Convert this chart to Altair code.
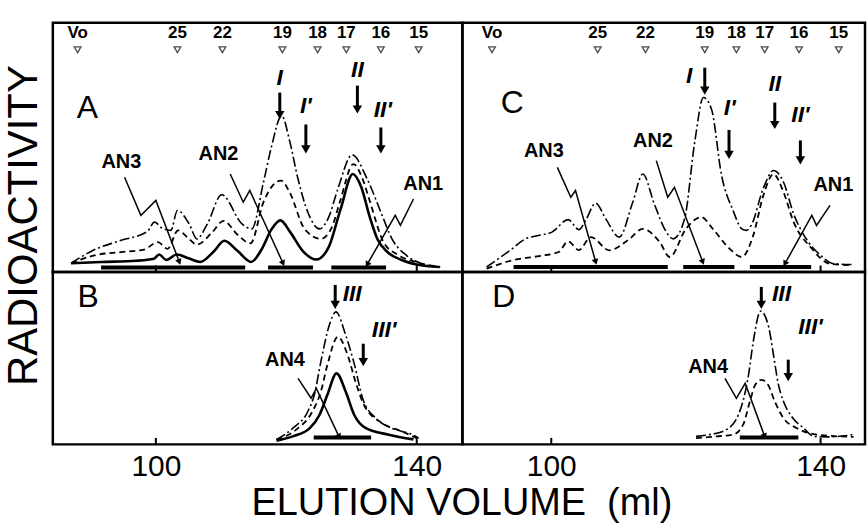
import math
import altair as alt
import pandas as pd

FONT = "Liberation Sans"

# ---------------- layout constants (domains) ----------------
XDOM_L = [84.2, 147.0]
XDOM_R = [86.8, 146.6]
W_L, W_R = 411, 404
H_T, H_B = 250, 173
YDOM_T = [0, 100]
YDOM_B = [0, 69.2]
KX_L, KX_R, KY = W_L / (XDOM_L[1] - XDOM_L[0]), W_R / (XDOM_R[1] - XDOM_R[0]), 2.5

# ---------------- panel A ----------------
A_solid_x = [87.0, 91.6, 97.0, 99.7, 100.5, 101.6, 103.2, 105.0, 106.8, 108.8, 110.5, 112.5, 114.6, 116.2, 117.7, 119.1, 120.6, 122.5, 124.6, 126.5, 128.3, 130.2, 131.5, 132.8, 134.0, 135.5, 137.5, 140.0, 143.5]
A_solid_y = [3.5, 4.0, 4.5, 5.3, 7.0, 4.8, 7.0, 5.5, 4.0, 8.0, 12.5, 8.5, 4.0, 9.0, 17.0, 20.7, 16.0, 8.5, 5.0, 10.0, 25.0, 39.3, 34.0, 22.0, 13.0, 8.0, 5.0, 3.0, 2.0]
A_dash_x = [87.0, 90.6, 94.7, 98.2, 100.3, 101.8, 103.4, 104.8, 106.3, 108.5, 110.4, 112.5, 114.5, 116.5, 118.0, 119.2, 120.5, 122.8, 125.3, 127.0, 128.2, 130.3, 131.6, 132.7, 134.9, 137.0, 139.8, 143.6]
A_dash_y = [3.5, 6.7, 8.0, 9.0, 12.0, 9.3, 16.7, 14.0, 11.0, 15.5, 20.5, 15.0, 11.5, 28.0, 35.0, 36.7, 32.0, 17.3, 13.3, 18.0, 28.0, 43.3, 38.0, 29.3, 12.0, 7.0, 4.0, 2.0]
A_dd_x = [87.0, 90.4, 94.4, 98.7, 99.8, 101.0, 102.3, 103.3, 105.1, 106.3, 107.9, 110.1, 113.2, 114.7, 116.5, 117.7, 119.3, 120.5, 121.8, 123.3, 125.1, 126.5, 127.9, 130.1, 132.4, 134.5, 136.2, 138.5, 140.8, 143.5]
A_dd_y = [3.5, 8.7, 12.5, 16.3, 20.0, 17.5, 16.7, 24.7, 19.3, 13.3, 19.3, 31.0, 19.3, 17.3, 36.0, 50.0, 62.7, 52.7, 37.3, 24.0, 17.3, 22.0, 33.3, 47.0, 37.3, 24.0, 13.3, 6.5, 3.3, 2.0]

# ---------------- panel C ----------------
C_dd_x = [90.4, 93.9, 96.2, 98.2, 100.1, 102.5, 104.1, 105.1, 106.6, 108.1, 110.1, 112.1, 113.6, 115.3, 117.1, 118.1, 119.8, 121.3, 122.6, 123.8, 125.3, 127.0, 128.3, 129.0, 129.7, 131.5, 133.0, 134.5, 136.0, 138.2, 140.0, 142.0, 144.7]
C_dd_y = [2.0, 8.7, 13.3, 14.7, 16.0, 21.0, 17.0, 20.7, 27.6, 21.3, 14.0, 28.0, 39.3, 27.3, 16.0, 13.3, 21.3, 52.0, 70.0, 65.3, 38.7, 24.7, 17.3, 16.7, 18.7, 33.6, 40.7, 36.0, 23.3, 12.0, 6.7, 3.3, 3.0]
C_dash_x = [90.4, 94.2, 98.2, 101.1, 102.5, 104.1, 105.9, 108.6, 111.5, 113.6, 116.1, 117.6, 120.0, 122.3, 124.0, 126.5, 128.3, 130.0, 131.5, 133.0, 134.5, 136.0, 138.5, 141.4, 144.7]
C_dash_y = [1.3, 4.7, 6.4, 8.0, 12.3, 8.8, 14.0, 8.7, 13.0, 17.3, 12.0, 6.0, 17.3, 22.0, 17.3, 9.3, 6.0, 14.7, 30.7, 39.3, 32.0, 20.0, 10.0, 3.3, 2.7]

# ---------------- panel B ----------------
B_solid_x = [118.5, 121.0, 123.6, 125.1, 126.3, 127.7, 129.1, 130.4, 132.2, 135.7, 139.5]
B_solid_y = [1.5, 3.2, 6.5, 11.9, 19.9, 28.5, 21.2, 11.9, 6.5, 3.9, 2.0]
B_dash_x = [118.5, 121.5, 124.0, 125.3, 126.3, 127.9, 129.4, 130.6, 131.9, 134.7, 137.7, 140.0]
B_dash_y = [2.0, 5.9, 13.2, 21.2, 31.9, 43.2, 35.9, 25.2, 15.9, 8.5, 5.2, 2.5]
B_dd_x = [118.5, 121.0, 123.3, 124.3, 125.3, 126.6, 127.6, 129.1, 130.4, 131.7, 133.7, 136.2, 139.3, 140.3]
B_dd_y = [1.9, 6.5, 13.2, 19.9, 33.2, 47.9, 53.2, 43.9, 32.5, 18.5, 10.5, 6.5, 3.9, 2.5]

# ---------------- panel D ----------------
D_dd_x = [121.5, 123.5, 126.0, 127.8, 129.3, 130.0, 131.1, 132.3, 133.0, 133.7, 134.5, 135.7, 137.5, 139.0, 141.0, 144.9]
D_dd_y = [3.2, 3.9, 5.9, 11.9, 27.9, 41.2, 53.5, 47.0, 36.0, 24.5, 17.2, 11.2, 6.5, 3.2, 3.0, 3.9]
D_dash_x = [121.5, 124.5, 127.0, 128.5, 129.5, 130.3, 131.2, 132.2, 133.2, 134.5, 136.5, 139.4, 144.9]
D_dash_y = [2.5, 3.2, 3.9, 7.9, 17.2, 23.9, 25.9, 23.9, 17.2, 10.5, 6.5, 3.9, 3.0]

# ---------------- markers (standards) ----------------
mark_labels = ["Vo", "25", "22", "19", "18", "17", "16", "15"]
A_mark_x = [88.0, 103.3, 110.2, 119.4, 124.8, 129.2, 134.5, 140.3]
C_mark_x = [91.2, 106.9, 114.0, 122.8, 127.5, 131.7, 136.8, 142.7]
mark_tri_y = 89.2
mark_lab_y = 96.0

# ---------------- pooled fraction bars ----------------
A_bar_x1 = [91.6, 117.2, 126.9]
A_bar_x2 = [113.7, 124.1, 135.3]
A_bar_y = 1.8
C_bar_x1 = [94.4, 119.6, 129.5]
C_bar_x2 = [117.3, 127.2, 138.6]
C_bar_y = 2.0
B_bar_x1, B_bar_x2, B_bar_y = [124.2], [133.0], 2.8
D_bar_x1, D_bar_x2, D_bar_y = [128.0], [136.7], 2.8

# ---------------- roman numeral labels and arrows ----------------
A_rom_text = ["I", "I'", "II", "II'"]
A_rom_x = [119.0, 123.0, 130.9, 134.8]
A_rom_y = [78.0, 66.8, 81.2, 65.2]
A_arr_x = [119.0, 123.0, 130.9, 134.5]
A_arr_top = [72.0, 59.2, 74.8, 58.0]
A_arr_tip = [63.0, 49.2, 65.2, 49.2]

C_rom_text = ["I", "I'", "II", "II'"]
C_rom_x = [120.5, 126.5, 133.2, 137.0]
C_rom_y = [78.8, 66.0, 75.3, 62.8]
C_arr_x = [122.8, 126.4, 133.2, 137.0]
C_arr_top = [82.0, 57.0, 68.0, 52.8]
C_arr_tip = [72.8, 47.0, 59.0, 44.8]

B_rom_text = ["III", "III'"]
B_rom_x = [130.1, 135.0]
B_rom_y = [60.4, 46.0]
B_arr_x = [127.5, 131.8]
B_arr_top = [64.0, 40.4]
B_arr_tip = [56.0, 33.0]

D_rom_text = ["III", "III'"]
D_rom_x = [134.2, 138.5]
D_rom_y = [60.5, 47.2]
D_arr_x = [131.2, 135.2]
D_arr_top = [63.2, 34.0]
D_arr_tip = [56.0, 27.0]

# ---------------- AN labels and leader lines ----------------
A_an_text = ["AN3", "AN2", "AN1"]
A_an_x = [94.7, 109.6, 141.0]
A_an_y = [44.0, 47.3, 35.3]
A_lead_x = [[95.2, 97.7, 100.0, 103.6], [111.4, 113.4, 114.4, 119.5], [139.5, 137.5, 136.7, 132.4]]
A_lead_y = [[38.0, 22.7, 28.7, 4.0], [39.3, 28.0, 32.7, 3.5], [29.3, 18.7, 22.7, 3.0]]

C_an_text = ["AN3", "AN2", "AN1"]
C_an_x = [98.9, 115.1, 141.9]
C_an_y = [48.7, 52.7, 34.7]
C_lead_x = [[100.9, 102.9, 103.6, 106.6], [115.6, 117.3, 118.3, 122.5], [141.4, 139.4, 138.7, 134.7]]
C_lead_y = [[42.0, 30.0, 32.7, 4.0], [44.7, 30.0, 34.0, 4.0], [26.7, 18.7, 22.7, 3.3]]

B_an_text, B_an_x, B_an_y = ["AN4"], [119.8], [33.9]
B_lead_x = [[121.8, 123.8, 124.6, 128.1]]
B_lead_y = [[26.5, 18.5, 22.5, 3.0]]

D_an_text, D_an_x, D_an_y = ["AN4"], [123.3], [31.2]
D_lead_x = [[125.8, 127.5, 128.8, 131.7]]
D_lead_y = [[26.5, 18.5, 24.5, 3.2]]

# ---------------- panel letters ----------------
letters = {"A": (89.5, 66.0), "B": (89.6, 59.2), "C": (94.2, 68.0), "D": (92.95, 59.2)}

TICK_VALUES = [100, 140]

STYLES = {
    "solid": dict(strokeWidth=2.6),
    "dash": dict(strokeWidth=1.8, strokeDash=[6, 4]),
    "dashdot": dict(strokeWidth=1.6, strokeDash=[10, 3, 2, 3]),
}


def panel(letter, curves, bars, romans, arrows, ans, leaders, xdom, ydom, width, height, kx,
          xaxis, yaxis, markers_x=None):
    X = alt.X("x:Q", scale=alt.Scale(domain=xdom, nice=False, zero=False), axis=xaxis)
    Y = alt.Y("y:Q", scale=alt.Scale(domain=ydom, nice=False, zero=False), axis=yaxis)
    layers = []
    for xs, ys, style in curves:
        df = pd.DataFrame({"x": xs, "y": ys})
        layers.append(alt.Chart(df).mark_line(interpolate="monotone", color="black", **STYLES[style]).encode(x=X, y=Y))
    x1s, x2s, by = bars
    dfb = pd.DataFrame({"x": x1s, "x2": x2s, "y": [by] * len(x1s)})
    layers.append(alt.Chart(dfb).mark_rule(color="black", strokeWidth=4).encode(x=X, x2=alt.X2("x2:Q"), y=Y))
    dft = pd.DataFrame({"x": TICK_VALUES, "y": [0.0, 0.0], "y2": [2.6, 2.6]})
    layers.append(alt.Chart(dft).mark_rule(color="black", strokeWidth=2).encode(x=X, y=Y, y2=alt.Y2("y2:Q")))
    if markers_x is not None:
        dfm = pd.DataFrame({"x": markers_x, "y": [mark_tri_y] * len(markers_x), "lab": mark_labels})
        layers.append(alt.Chart(dfm).mark_point(shape="triangle-down", filled=False, size=45, color="black", strokeWidth=1.3).encode(x=X, y=Y))
        dfl = pd.DataFrame({"x": markers_x, "y": [mark_lab_y] * len(markers_x), "lab": mark_labels})
        layers.append(alt.Chart(dfl).mark_text(font=FONT, fontSize=17, fontWeight="bold", color="black", align="center", baseline="middle").encode(x=X, y=Y, text="lab:N"))
    rt, rx, ry = romans
    dfr = pd.DataFrame({"x": rx, "y": ry, "lab": rt})
    layers.append(alt.Chart(dfr).mark_text(font=FONT, fontSize=23, fontWeight="bold", fontStyle="italic", color="black", align="center", baseline="middle").encode(x=X, y=Y, text="lab:N"))
    ax, atop, atip = arrows
    dfa = pd.DataFrame({"x": ax, "y": atop, "y2": atip})
    layers.append(alt.Chart(dfa).mark_rule(color="black", strokeWidth=3).encode(x=X, y=Y, y2=alt.Y2("y2:Q")))
    dfh = pd.DataFrame({"x": ax, "y": atip})
    layers.append(alt.Chart(dfh).mark_point(shape="triangle-down", filled=True, size=90, color="black", opacity=1).encode(x=X, y=Y))
    at, axs, ays = ans
    dfn = pd.DataFrame({"x": axs, "y": ays, "lab": at})
    layers.append(alt.Chart(dfn).mark_text(font=FONT, fontSize=20, fontWeight="bold", color="black", align="center", baseline="middle").encode(x=X, y=Y, text="lab:N"))
    lx, ly = leaders
    rows, heads = [], []
    for i, (xs, ys) in enumerate(zip(lx, ly)):
        for j, (xx, yy) in enumerate(zip(xs, ys)):
            rows.append({"id": i, "o": j, "x": xx, "y": yy})
        dx = (xs[-1] - xs[-2]) * kx
        dys = -(ys[-1] - ys[-2]) * KY
        ang = math.degrees(math.atan2(dx, -dys)) % 360
        heads.append({"x": xs[-1], "y": ys[-1], "ang": ang})
    dfld = pd.DataFrame(rows)
    layers.append(alt.Chart(dfld).mark_line(color="black", strokeWidth=1.5).encode(x=X, y=Y, detail="id:N", order="o:Q"))
    dfhd = pd.DataFrame(heads)
    layers.append(alt.Chart(dfhd).mark_point(shape="triangle-up", filled=True, size=45, color="black", opacity=1).encode(x=X, y=Y, angle=alt.Angle("ang:Q", scale=None)))
    lxv, lyv = letters[letter]
    dfL = pd.DataFrame({"x": [lxv], "y": [lyv], "lab": [letter]})
    layers.append(alt.Chart(dfL).mark_text(font=FONT, fontSize=32, color="black", align="center", baseline="middle").encode(x=X, y=Y, text="lab:N"))
    return alt.layer(*layers).properties(width=width, height=height)


yaxis_title = alt.Axis(title="RADIOACTIVITY", labels=False, ticks=False, domain=False, grid=False,
                       titleFont=FONT, titleFontSize=42, titleFontWeight="normal", titleColor="black",
                       titleX=-29, titleY=203, titleAngle=270, titleAlign="center", titleBaseline="middle")
xaxis_bl = alt.Axis(values=TICK_VALUES, ticks=False, domain=False, grid=False, labelFont=FONT, labelFontSize=30,
                    labelColor="black", labelPadding=7, labelFlush=False,
                    title="ELUTION VOLUME\u00a0 (ml)", titleFont=FONT, titleFontSize=38, titleFontWeight="normal",
                    titleColor="black", titleX=410, titleY=70, titleAlign="center", titleBaseline="alphabetic")
xaxis_br = alt.Axis(values=TICK_VALUES, ticks=False, domain=False, grid=False, labelFont=FONT, labelFontSize=30,
                    labelColor="black", labelPadding=7, labelFlush=False, title=None)

pA = panel("A",
           [(A_solid_x, A_solid_y, "solid"), (A_dash_x, A_dash_y, "dash"), (A_dd_x, A_dd_y, "dashdot")],
           (A_bar_x1, A_bar_x2, A_bar_y),
           (A_rom_text, A_rom_x, A_rom_y), (A_arr_x, A_arr_top, A_arr_tip),
           (A_an_text, A_an_x, A_an_y), (A_lead_x, A_lead_y),
           XDOM_L, YDOM_T, W_L, H_T, KX_L, None, yaxis_title, markers_x=A_mark_x)
pC = panel("C",
           [(C_dash_x, C_dash_y, "dash"), (C_dd_x, C_dd_y, "dashdot")],
           (C_bar_x1, C_bar_x2, C_bar_y),
           (C_rom_text, C_rom_x, C_rom_y), (C_arr_x, C_arr_top, C_arr_tip),
           (C_an_text, C_an_x, C_an_y), (C_lead_x, C_lead_y),
           XDOM_R, YDOM_T, W_R, H_T, KX_R, None, None, markers_x=C_mark_x)
pB = panel("B",
           [(B_solid_x, B_solid_y, "solid"), (B_dash_x, B_dash_y, "dash"), (B_dd_x, B_dd_y, "dashdot")],
           (B_bar_x1, B_bar_x2, B_bar_y),
           (B_rom_text, B_rom_x, B_rom_y), (B_arr_x, B_arr_top, B_arr_tip),
           (B_an_text, B_an_x, B_an_y), (B_lead_x, B_lead_y),
           XDOM_L, YDOM_B, W_L, H_B, KX_L, xaxis_bl, None)
pD = panel("D",
           [(D_dash_x, D_dash_y, "dash"), (D_dd_x, D_dd_y, "dashdot")],
           (D_bar_x1, D_bar_x2, D_bar_y),
           (D_rom_text, D_rom_x, D_rom_y), (D_arr_x, D_arr_top, D_arr_tip),
           (D_an_text, D_an_x, D_an_y), (D_lead_x, D_lead_y),
           XDOM_R, YDOM_B, W_R, H_B, KX_R, xaxis_br, None)

chart = alt.concat(pA, pC, pB, pD, columns=2, spacing=0, bounds="flush", align="each").properties(
    padding={"left": 1, "top": 20, "right": 0, "bottom": 0},
    background="white",
).configure_view(stroke="black", strokeWidth=2.5)

chart.save("out.html", embed_options={"renderer": "svg", "actions": False})
